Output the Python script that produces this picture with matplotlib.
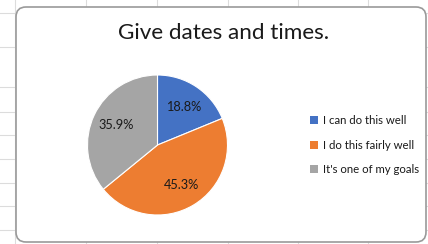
import matplotlib
matplotlib.use("Agg")
import matplotlib.pyplot as plt
from matplotlib.patches import FancyBboxPatch, Patch
from matplotlib.lines import Line2D

title = "Give dates and times."
labels = ["I can do this well", "I do this fairly well", "It's one of my goals"]
values = [18.8, 45.3, 35.9]
colors = ["#4472C4", "#ED7D31", "#A5A5A5"]

plt.rcParams['font.family'] = ['Lato', 'DejaVu Sans']

W, H = 428, 244
fig = plt.figure(figsize=(W / 100, H / 100), dpi=100)
fig.patch.set_facecolor("white")

# spreadsheet grid behind the chart
grid_c = "#dcdcdc"
for gx in [15, 86, 157, 228, 298, 368]:
    fig.add_artist(Line2D([gx / W, gx / W], [0, 1], color=grid_c, lw=0.8, zorder=0))
for gy in [13, 47, 87, 112, 135, 159, 183, 206, 230]:
    fig.add_artist(Line2D([0, 1], [1 - gy / H, 1 - gy / H], color=grid_c, lw=0.8, zorder=0))

# chart area with rounded corners
box = FancyBboxPatch((0.16, 0.02), 4.10, 2.35,
                     boxstyle="round,pad=0,rounding_size=0.1",
                     transform=fig.dpi_scale_trans,
                     facecolor="white", edgecolor="#9a9a9a", lw=1.2, zorder=1)
fig.add_artist(box)

fig.text(224 / W, 1 - 33 / H, title, ha="center", va="center",
         fontsize=16.2, color="#1a1a1a", zorder=3)

cx, cy, r = 157.5, 145, 70
ax = fig.add_axes([(cx - r) / W, (H - cy - r) / H, 2 * r / W, 2 * r / H])
ax.set_zorder(2)
wedges, texts, autotexts = ax.pie(
    values, colors=colors, startangle=90, counterclock=False,
    autopct="%.1f%%", pctdistance=0.66,
    wedgeprops=dict(edgecolor="white", linewidth=0.8),
    textprops=dict(fontsize=9.2, color="#1a1a1a"))
ax.set_xlim(-1, 1)
ax.set_ylim(-1, 1)
ax.set_aspect("equal")
ax.axis("off")

handles = [Patch(facecolor=c, edgecolor="none") for c in colors]
leg = fig.legend(handles, labels, loc="center left",
                 bbox_to_anchor=(304 / W, 1 - 145 / H),
                 frameon=False, fontsize=8.2, handlelength=0.7, handleheight=0.7,
                 handletextpad=0.45, labelspacing=1.15, borderpad=0)
leg.set_zorder(3)
for t in leg.get_texts():
    t.set_color("#1a1a1a")

fig.savefig("out.png", dpi=100, facecolor="white")
